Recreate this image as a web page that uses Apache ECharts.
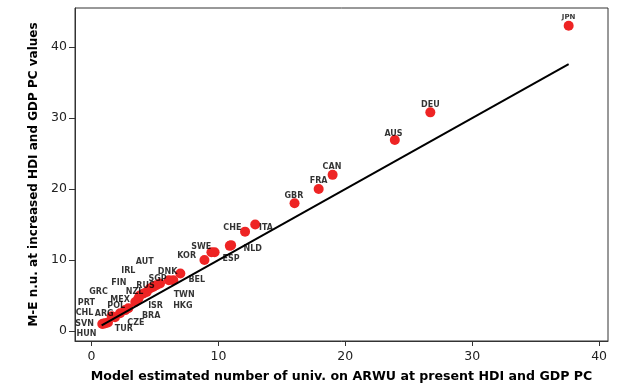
<!DOCTYPE html>
<html>
<head>
<meta charset="utf-8">
<script src="https://cdn.jsdelivr.net/npm/echarts@6/dist/echarts.min.js"></script>
<style>html,body{margin:0;padding:0;background:#fff}#c{width:619px;height:388px}</style>
</head>
<body>
<div id="c"></div>
<script>
// Countries (points)
const countries = ['JPN','DEU','AUS','CAN','FRA','GBR','ITA','CHE','NLD','ESP','SWE','AUT','KOR','DNK','BEL','SGP','FIN','RUS','NZL','IRL','TWN','HKG','ISR','MEX','GRC','BRA','POL','PRT','CZE','ARG','TUR','CHL','SVN','HUN'];
// Model estimated number (x)
const modelEstimated = [37.6,26.7,23.9,19.0,17.9,16.0,12.9,12.1,11.0,10.9,9.7,9.45,8.9,7.0,6.45,6.1,5.4,5.1,4.85,4.6,4.35,4.1,3.8,3.7,3.45,2.9,2.65,2.25,1.85,1.6,1.3,1.1,0.95,0.85];
// M-E n.u. at increased HDI and GDP PC (y)
const meValues = [43.0,30.8,26.9,22.0,20.0,18.0,15.0,14.0,12.1,12.0,11.1,11.1,10.0,8.1,7.15,7.15,6.7,6.45,6.2,6.0,5.5,5.3,5.0,4.6,4.1,3.2,2.95,2.5,1.95,2.1,1.2,1.1,1.05,1.0];
// Label anchor points (data coordinates) for the country tags
const tagNames = ['JPN','DEU','AUS','CAN','FRA','GBR','ITA','CHE','NLD','ESP','SWE','KOR','AUT','IRL','FIN','GRC','PRT','CHL','SVN','HUN','ARG','POL','MEX','NZL','RUS','SGP','DNK','BEL','TWN','HKG','ISR','BRA','CZE','TUR'];
const tagX = [37.6,26.7,23.8,18.95,17.9,15.95,13.75,11.1,12.7,11.0,8.65,7.5,4.2,2.9,2.15,0.55,-0.4,-0.55,-0.55,-0.4,1.0,1.95,2.25,3.4,4.25,5.2,6.0,8.3,7.3,7.2,5.05,4.7,3.5,2.55];
const tagY = [44.2,31.9,27.8,23.05,21.1,19.0,14.5,14.5,11.6,10.2,11.9,10.65,9.8,8.4,6.8,5.5,4.0,2.55,1.0,-0.45,2.4,3.5,4.45,5.55,6.4,7.4,8.3,7.2,5.1,3.5,3.5,2.1,1.2,0.28];
// Fit line
const fitX = [0.8, 37.6];
const fitY = [0.8, 37.6];
// Tick values
const xTicks = [0,10,20,30,40];
const yTicks = [0,10,20,30,40];

const chart = echarts.init(document.getElementById('c'), null, {renderer:'canvas'});
const font = 'DejaVu Sans';
chart.setOption({
  animation:false,
  backgroundColor:'#fff',
  grid:{left:75, right:11, top:8, bottom:45, show:true, borderColor:'#333', borderWidth:1, backgroundColor:'#fff'},
  xAxis:{
    type:'value', min:-1.3, max:40.7,
    name:'Model estimated number of univ. on ARWU at present HDI and GDP PC',
    nameLocation:'middle', nameGap:29,
    nameTextStyle:{fontFamily:font, fontWeight:'bold', fontSize:12.6, color:'#000'},
    axisLine:{show:true, onZero:false, lineStyle:{color:'#333', width:1}},
    axisTick:{show:true, length:5, customValues:xTicks, lineStyle:{color:'#333'}},
    axisLabel:{customValues:xTicks, fontFamily:font, fontSize:12.5, color:'#222', margin:9},
    splitLine:{show:false}
  },
  yAxis:{
    type:'value', min:-1.4, max:45.5,
    name:'M-E n.u. at increased HDI and GDP PC values',
    nameLocation:'middle', nameGap:34,
    nameTextStyle:{fontFamily:font, fontWeight:'bold', fontSize:12, color:'#000'},
    axisLine:{show:true, onZero:false, lineStyle:{color:'#333', width:1}},
    axisTick:{show:true, length:6, customValues:yTicks, lineStyle:{color:'#333'}},
    axisLabel:{customValues:yTicks, fontFamily:font, fontSize:12.5, color:'#222', margin:8},
    splitLine:{show:false}
  },
  series:[
    {
      type:'line', data:fitX.map((x,i)=>[x,fitY[i]]), showSymbol:false, symbol:'none',
      lineStyle:{color:'#000', width:2}, z:3
    },
    {
      type:'scatter', data:modelEstimated.map((x,i)=>({name:countries[i], value:[x, meValues[i]]})),
      symbolSize:10, itemStyle:{color:'#ee2424', opacity:1}, z:2
    },
    {
      type:'scatter', data:tagX.map((x,i)=>({name:tagNames[i], value:[x, tagY[i]],
        label: tagNames[i]==='JPN' ? {fontSize:7} : undefined})),
      symbolSize:0, silent:true, z:4,
      label:{show:true, position:'inside', formatter:p=>p.name, fontFamily:font, fontWeight:'bold', fontSize:8, color:'#000'}
    }
  ]
});
</script>
</body>
</html>
